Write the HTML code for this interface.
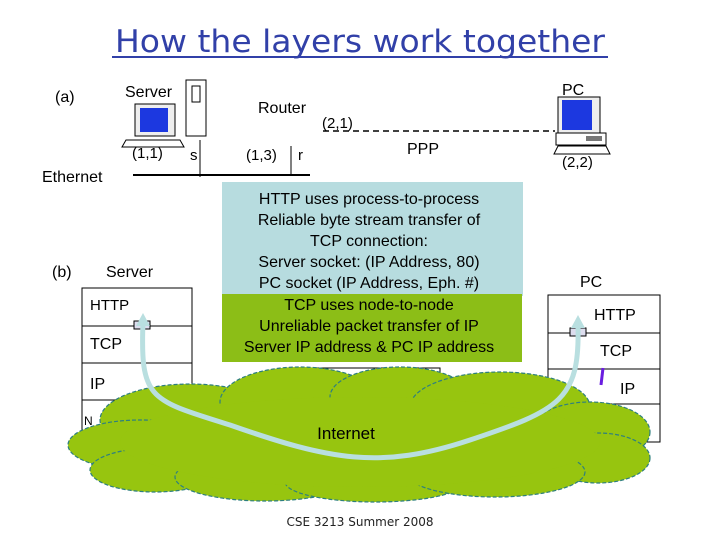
<!DOCTYPE html>
<html><head><style>
body{margin:0;background:#fff;}
svg{display:block;font-family:"Liberation Sans",Arial,sans-serif;}
</style></head><body>
<svg width="720" height="540" viewBox="0 0 720 540">
<text x="360" y="52" text-anchor="middle" font-family="DejaVu Sans, sans-serif" font-size="31" fill="#3140a8" textLength="490" lengthAdjust="spacingAndGlyphs">How the layers work together</text>
<line x1="112" y1="57" x2="608" y2="57" stroke="#3140a8" stroke-width="2"/>

<text x="55" y="102" font-size="16">(a)</text>
<text x="125" y="97" font-size="16">Server</text>
<rect x="186" y="80" width="20" height="56" fill="#fff" stroke="#000"/>
<rect x="192" y="86" width="8" height="16" fill="none" stroke="#000"/>
<rect x="135" y="104" width="40" height="32" fill="#eee" stroke="#000"/>
<rect x="140" y="108" width="28" height="24" fill="#1c38e0"/>
<polygon points="126,140 180,140 184,147 122,147" fill="#fff" stroke="#000"/>
<text x="132" y="158" font-size="15">(1,1)</text>
<text x="190" y="160" font-size="15">s</text>
<line x1="200" y1="140" x2="200" y2="177" stroke="#000"/>
<text x="258" y="113" font-size="16">Router</text>
<text x="322" y="128" font-size="15">(2,1)</text>
<text x="246" y="160" font-size="15">(1,3)</text>
<line x1="291" y1="146" x2="291" y2="176" stroke="#000"/>
<text x="298" y="160" font-size="15">r</text>
<text x="42" y="182" font-size="16">Ethernet</text>
<line x1="133" y1="175" x2="310" y2="175" stroke="#000" stroke-width="2"/>
<line x1="323" y1="131" x2="555" y2="131" stroke="#000" stroke-width="1.5" stroke-dasharray="6,4"/>
<text x="407" y="154" font-size="16">PPP</text>
<text x="562" y="95" font-size="16">PC</text>
<rect x="558" y="97" width="42" height="36" fill="#eee" stroke="#000"/>
<rect x="562" y="100" width="30" height="30" fill="#1c38e0"/>
<rect x="556" y="133" width="50" height="12" fill="#fff" stroke="#000"/>
<rect x="586" y="136" width="16" height="5" fill="#777"/>
<polygon points="558,146 606,146 610,154 554,154" fill="#fff" stroke="#000"/>
<text x="562" y="167" font-size="15">(2,2)</text>

<text x="52" y="277" font-size="16">(b)</text>
<text x="106" y="277" font-size="16">Server</text>
<text x="580" y="287" font-size="16">PC</text>
<g stroke="#000" fill="#fff">
<rect x="82" y="288" width="110" height="150"/>
<line x1="82" y1="326" x2="192" y2="326"/>
<line x1="82" y1="363" x2="192" y2="363"/>
<line x1="82" y1="400" x2="192" y2="400"/>
<rect x="548" y="295" width="112" height="147"/>
<line x1="548" y1="333" x2="660" y2="333"/>
<line x1="548" y1="369" x2="660" y2="369"/>
<line x1="548" y1="404" x2="660" y2="404"/>
</g>
<text x="90" y="310" font-size="15">HTTP</text>
<text x="90" y="349" font-size="16">TCP</text>
<text x="90" y="389" font-size="16">IP</text>
<text x="84" y="425" font-size="12">N</text>
<text x="594" y="320" font-size="16">HTTP</text>
<text x="600" y="356" font-size="16">TCP</text>
<text x="620" y="394" font-size="16">IP</text>
<text x="612" y="427" font-size="10">rface</text>
<rect x="134" y="321" width="16" height="8" fill="#dde" stroke="#000"/>
<rect x="570" y="328" width="16" height="8" fill="#dde" stroke="#000"/>
<rect x="300" y="368" width="140" height="30" fill="#fff" stroke="#000"/>
<line x1="601" y1="385" x2="603" y2="368" stroke="#6a1de0" stroke-width="3"/>

<g fill="#97c50f" stroke="#2e7f7f" stroke-width="1.2" stroke-dasharray="4,2">
<ellipse cx="190" cy="420" rx="90" ry="36"/>
<ellipse cx="300" cy="402" rx="80" ry="35"/>
<ellipse cx="400" cy="397" rx="70" ry="30"/>
<ellipse cx="500" cy="407" rx="90" ry="35"/>
<ellipse cx="590" cy="432" rx="60" ry="30"/>
<ellipse cx="598" cy="458" rx="52" ry="25"/>
<ellipse cx="140" cy="445" rx="72" ry="25"/>
<ellipse cx="155" cy="470" rx="65" ry="22"/>
<ellipse cx="265" cy="477" rx="90" ry="24"/>
<ellipse cx="375" cy="482" rx="90" ry="20"/>
<ellipse cx="495" cy="472" rx="90" ry="25"/>
</g>
<g fill="#97c50f">
<ellipse cx="360" cy="442" rx="240" ry="45"/>
</g>
<path d="M143 322 C140 400 150 400 230 425 C330 460 380 470 470 440 C560 410 580 400 578 325" fill="none" stroke="#b9dfe0" stroke-width="5"/>
<polygon points="143,313 136,326 150,326" fill="#b9dfe0"/>
<polygon points="578,315 571,328 585,328" fill="#b9dfe0"/>
<text x="346" y="439" text-anchor="middle" font-size="17">Internet</text>

<rect x="222" y="182" width="301" height="114" fill="#b7dcdf"/>
<rect x="222" y="294" width="300" height="68" fill="#8cbe17"/>
<g font-size="16" text-anchor="middle">
<text x="369" y="204">HTTP uses process-to-process</text>
<text x="369" y="225">Reliable byte stream transfer of</text>
<text x="369" y="246">TCP connection:</text>
<text x="369" y="267">Server socket: (IP Address, 80)</text>
<text x="369" y="288">PC socket (IP Address, Eph. #)</text>
<text x="369" y="310">TCP uses node-to-node</text>
<text x="369" y="331">Unreliable packet transfer of IP</text>
<text x="369" y="352">Server IP address &amp; PC IP address</text>
</g>
<text x="360" y="526" text-anchor="middle" font-family="DejaVu Sans, sans-serif" font-size="12" fill="#222">CSE 3213 Summer 2008</text>
</svg>
</body></html>
